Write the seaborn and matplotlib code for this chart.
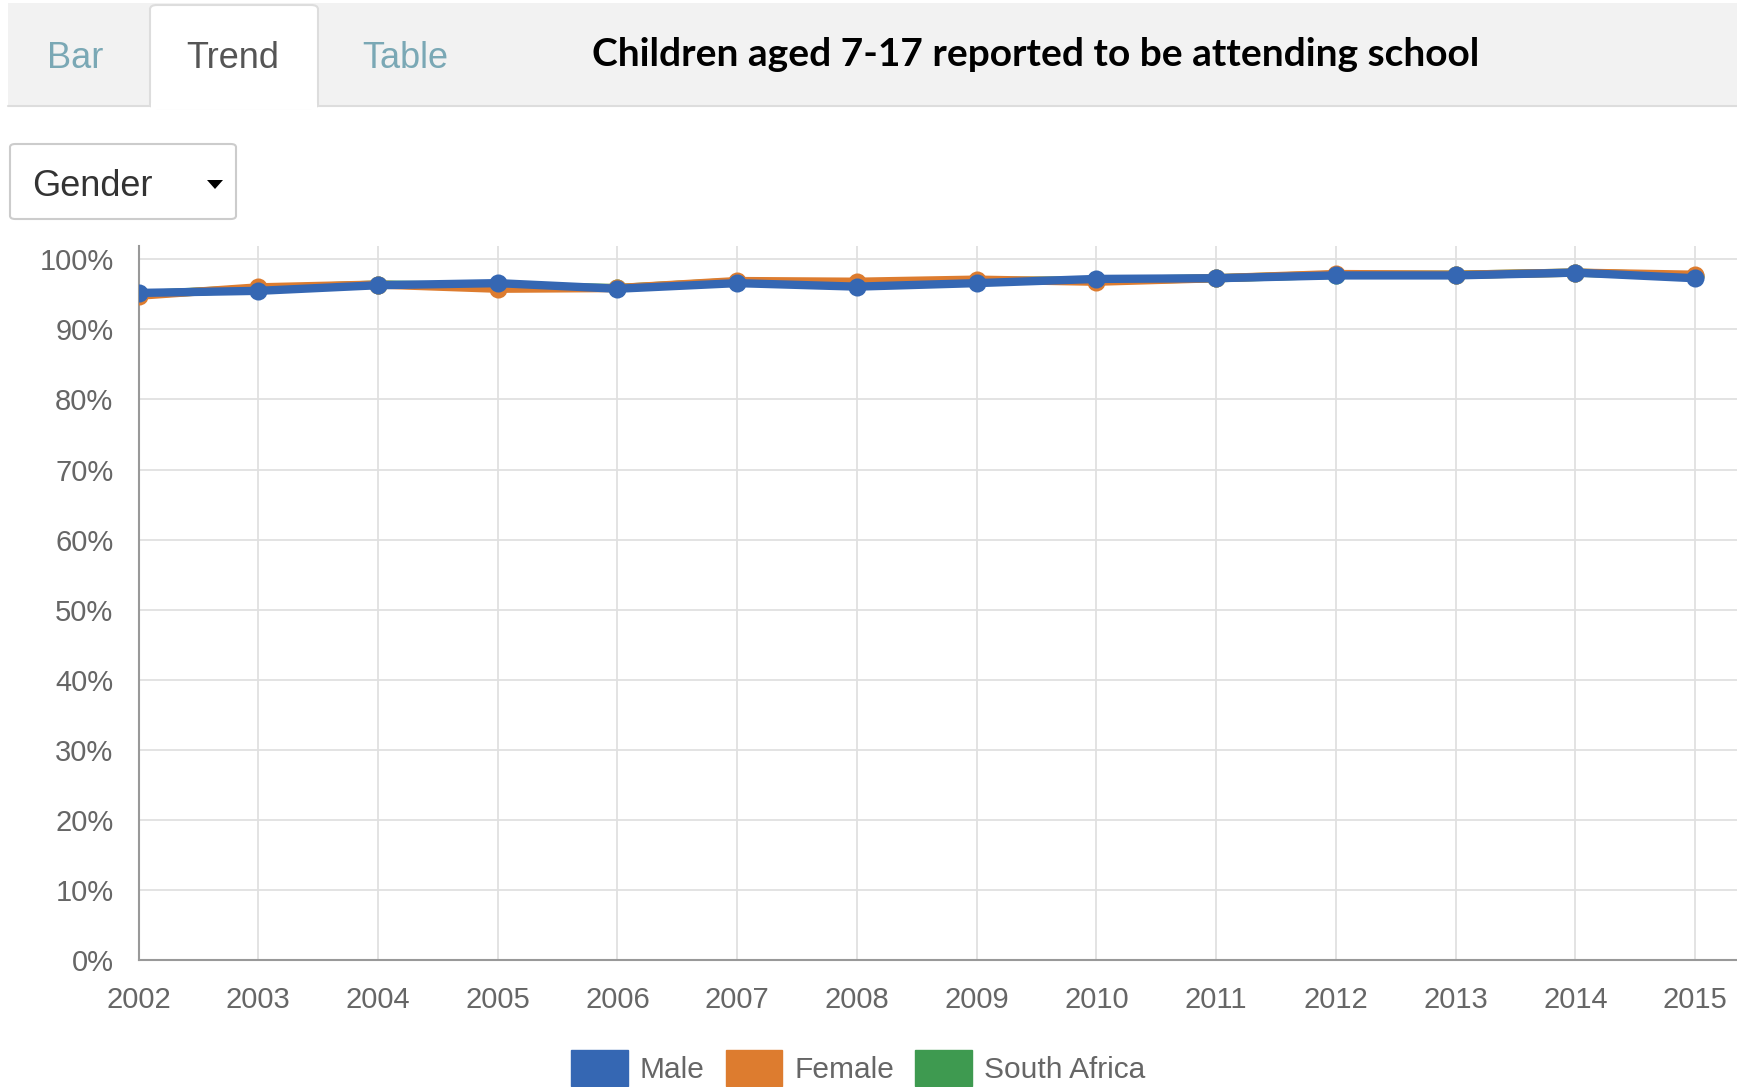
import matplotlib
matplotlib.use('Agg')
import matplotlib.pyplot as plt
import matplotlib.patches as mpatches
import numpy as np
import pandas as pd
import seaborn as sns

# data (percent attending school)
years = list(range(2002, 2016))
male = [95.2, 95.5, 96.3, 96.6, 95.8, 96.6, 96.1, 96.6, 97.2, 97.3, 97.7, 97.7, 98.1, 97.3]
female = [94.8, 96.0, 96.4, 95.8, 95.9, 96.9, 96.8, 97.1, 96.8, 97.3, 97.9, 97.8, 98.1, 97.8]
south_africa = [95.0, 95.8, 96.4, 96.2, 95.9, 96.8, 96.5, 96.9, 97.0, 97.3, 97.8, 97.8, 98.1, 97.6]
series_names = ['Male', 'Female', 'South Africa']
palette = {'Male': '#3567b3', 'Female': '#dd7c2f', 'South Africa': '#3e9a50'}
tab_names = ['Bar', 'Trend', 'Table']
title = 'Children aged 7-17 reported to be attending school'

df = pd.DataFrame({
    'year': years * 3,
    'value': male + female + south_africa,
    'series': ['Male'] * 14 + ['Female'] * 14 + ['South Africa'] * 14,
})

sns.set_theme(style='white')
plt.rcParams['font.family'] = ['Liberation Sans', 'DejaVu Sans']

W, H = 1737, 1087
fig = plt.figure(figsize=(W / 100, H / 100), dpi=100)
fig.patch.set_facecolor('white')


def px(x, y):
    # figure pixel coords (top-left origin) -> figure fraction
    return x / W, 1 - y / H


# header: tab bar, tabs, title, dropdown
tab_bar = mpatches.Rectangle(px(8, 106), (W - 8) / W, 103 / H, transform=fig.transFigure,
                             facecolor='#f2f2f2', edgecolor='none', zorder=0)
fig.patches.append(tab_bar)
fig.add_artist(plt.Line2D([8 / W, 1], [1 - 106 / H] * 2, color='#dddddd', lw=1.5, zorder=1))
trend_tab = mpatches.FancyBboxPatch(px(150, 108), 168 / W, 103 / H, transform=fig.transFigure,
                                    boxstyle='round,pad=0,rounding_size=0.004',
                                    facecolor='white', edgecolor='#dddddd', lw=1.5, zorder=2)
fig.patches.append(trend_tab)
# open the bottom of the active tab
fig.patches.append(mpatches.Rectangle(px(151, 109), 166 / W, 6 / H, transform=fig.transFigure,
                                      facecolor='white', edgecolor='none', zorder=3))
tab_x = [75, 233, 405]
tab_colors = ['#7aa8b5', '#555555', '#7aa8b5']
for name, x, c in zip(tab_names, tab_x, tab_colors):
    fig.text(*px(x, 58), name, ha='center', va='center', fontsize=26, color=c, zorder=4)
fig.text(*px(1036, 55), title, ha='center', va='center', fontsize=28,
         fontweight='bold', family='Lato', color='black')

dropdown = mpatches.FancyBboxPatch(px(10, 219), 226 / W, 75 / H, transform=fig.transFigure,
                                   boxstyle='round,pad=0,rounding_size=0.003',
                                   facecolor='white', edgecolor='#cccccc', lw=1.5)
fig.patches.append(dropdown)
fig.text(*px(32, 186), 'Gender', ha='left', va='center', fontsize=26, color='#333333')
tri = mpatches.Polygon([px(207, 180), px(223, 180), px(215, 189)], closed=True,
                       transform=fig.transFigure, facecolor='black', edgecolor='none')
fig.patches.append(tri)

# chart axes
ax = fig.add_axes([138.5 / W, 1 - 960 / H, (W - 138.5) / W, (960 - 246) / H])
sns.lineplot(data=df, x='year', y='value', hue='series',
             hue_order=['South Africa', 'Female', 'Male'], palette=palette,
             marker='o', markersize=13, markeredgewidth=0, linewidth=6,
             legend=False, ax=ax, zorder=3)

ax.set_xlim(2002, 2015.35)
ax.set_ylim(0, 101.9)
ax.set_xticks(years)
ax.set_xticklabels([str(y) for y in years])
ax.set_yticks(np.arange(0, 101, 10))
ax.set_yticklabels([f'{v}%' for v in range(0, 101, 10)])
ax.set_xlabel('')
ax.set_ylabel('')
ax.grid(True, color='#e0e0e0', lw=1.3)
ax.set_axisbelow(True)
ax.tick_params(axis='both', length=10, width=1.3, color='#e0e0e0',
               labelsize=21, labelcolor='#666666')
ax.tick_params(axis='y', pad=8)
ax.tick_params(axis='x', pad=9)
for side in ['top', 'right']:
    ax.spines[side].set_visible(False)
for side in ['left', 'bottom']:
    ax.spines[side].set_color('#999999')
    ax.spines[side].set_linewidth(1.5)

handles = [mpatches.Patch(color=palette[n], label=n) for n in series_names]
fig.legend(handles=handles, loc='upper center', bbox_to_anchor=(858 / W, 1 - 1050 / H),
           ncol=3, frameon=False, fontsize=21.5, labelcolor='#666666',
           handlelength=1.9, handleheight=1.5, handletextpad=0.4, columnspacing=0.7,
           borderaxespad=0, borderpad=0)

fig.savefig('out.png', dpi=100, facecolor='white')
